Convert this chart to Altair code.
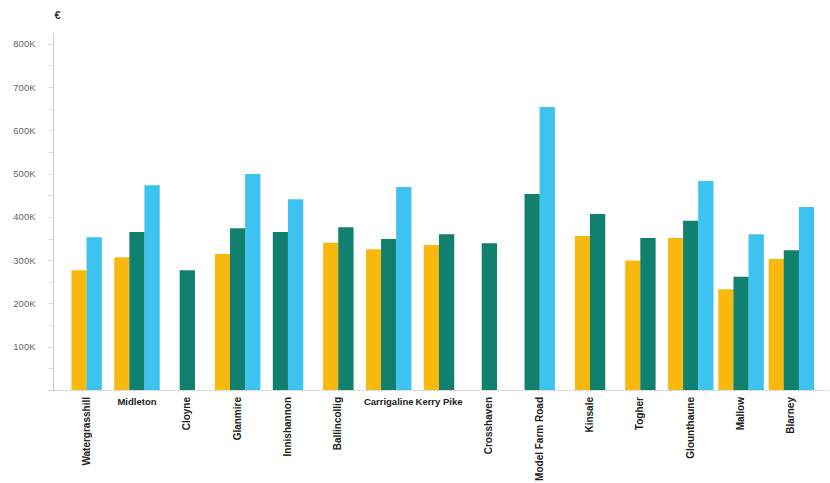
import json
import altair as alt
import pandas as pd

# ---- data ----
towns = ["Watergrasshill", "Midleton", "Cloyne", "Glanmire", "Innishannon",
         "Ballincollig", "Carrigaline", "Kerry Pike", "Crosshaven",
         "Model Farm Road", "Kinsale", "Togher", "Glounthaune", "Mallow", "Blarney"]
series = ["2 Bed", "3 Bed", "4 Bed"]
# prices in thousands of euro (None = no bar)
bed2 = [277, 307, None, 314, None, 340, 325, 335, None, None, 356, 299, 351, 233, 303]
bed3 = [None, 365, 277, 374, 365, 376, 349, 360, 339, 453, 407, 351, 391, 262, 323]
bed4 = [353, 473, None, 499, 441, None, 469, None, None, 654, None, None, 483, 360, 423]
y_ticks = list(range(0, 800001, 50000))

# ---- styling ----
colors = ["#F9B80E", "#12806F", "#3EC2EF"]
horizontal_labels = ["Midleton", "Carrigaline", "Kerry Pike"]
FONT = "Liberation Sans"

rows = []
for name, vals in zip(series, [bed2, bed3, bed4]):
    for t, v in zip(towns, vals):
        if v is not None:
            rows.append({"town": t, "series": name, "price": v * 1000})
df = pd.DataFrame(rows)
labels_df = pd.DataFrame({"town": towns})

towns_js = json.dumps(towns)
series_js = json.dumps(series)
horiz_js = json.dumps(horizontal_labels)

x_scale = alt.Scale(domain=[-0.569, 14.667], nice=False, zero=False)
y_scale = alt.Scale(domain=[0, 825000], nice=False)

x_axis = alt.Axis(labels=False, ticks=False, grid=False, title=None,
                  domainDash=[2, 2], domainColor="#bbbbbb")
y_axis = alt.Axis(values=y_ticks,
                  labelExpr="datum.value % 100000 == 0 && datum.value > 0 ? (datum.value / 1000) + 'K' : ''",
                  title="€", titleAngle=0, titleX=4, titleY=-18,
                  titleAlign="center", titleBaseline="middle",
                  titleFontSize=11, titleFontWeight="bold", titleColor="#333333",
                  titleFont=FONT, grid=False, domainColor="#cccccc",
                  tickColor="#dddddd", tickSize=5, labelColor="#666666",
                  labelFontSize=9.5, labelFont=FONT, labelPadding=13)

bars = alt.Chart(df).transform_calculate(
    ti=f"indexof({towns_js}, datum.town)",
    si=f"indexof({series_js}, datum.series)",
).transform_window(
    rank="row_number()", groupby=["town"], sort=[alt.SortField("si")]
).transform_joinaggregate(
    n="count()", groupby=["town"]
).transform_calculate(
    xpos="datum.ti + (datum.rank - (datum.n + 1) / 2) * 0.3"
).mark_bar(width=15.3).encode(
    x=alt.X("xpos:Q", scale=x_scale, axis=x_axis),
    y=alt.Y("price:Q", scale=y_scale, axis=y_axis),
    color=alt.Color("series:N", scale=alt.Scale(domain=series, range=colors), legend=None),
)

lbl_base = alt.Chart(labels_df).transform_calculate(
    ti=f"indexof({towns_js}, datum.town)"
)

vert = lbl_base.transform_filter(
    f"indexof({horiz_js}, datum.town) < 0"
).mark_text(angle=270, align="right", baseline="middle", dx=-7,
            font=FONT, fontSize=10, fontWeight="bold", color="#222222").encode(
    x=alt.X("ti:Q", scale=x_scale, axis=x_axis),
    y=alt.YDatum(0, axis=y_axis),
    text="town:N",
)

horiz = lbl_base.transform_filter(
    f"indexof({horiz_js}, datum.town) >= 0"
).mark_text(align="center", baseline="top", dy=7,
            font=FONT, fontSize=9.5, fontWeight="bold", color="#222222").encode(
    x=alt.X("ti:Q", scale=x_scale, axis=x_axis),
    y=alt.YDatum(0, axis=y_axis),
    text="town:N",
)

chart = alt.layer(bars, vert, horiz).properties(
    width=777, height=357,
    padding={"left": 53, "top": 33, "right": 0, "bottom": 93},
    autosize=alt.AutoSizeParams(type="none"),
    background="white",
).configure_view(stroke=None)

chart.save("out.html", embed_options={"renderer": "svg", "actions": False})
